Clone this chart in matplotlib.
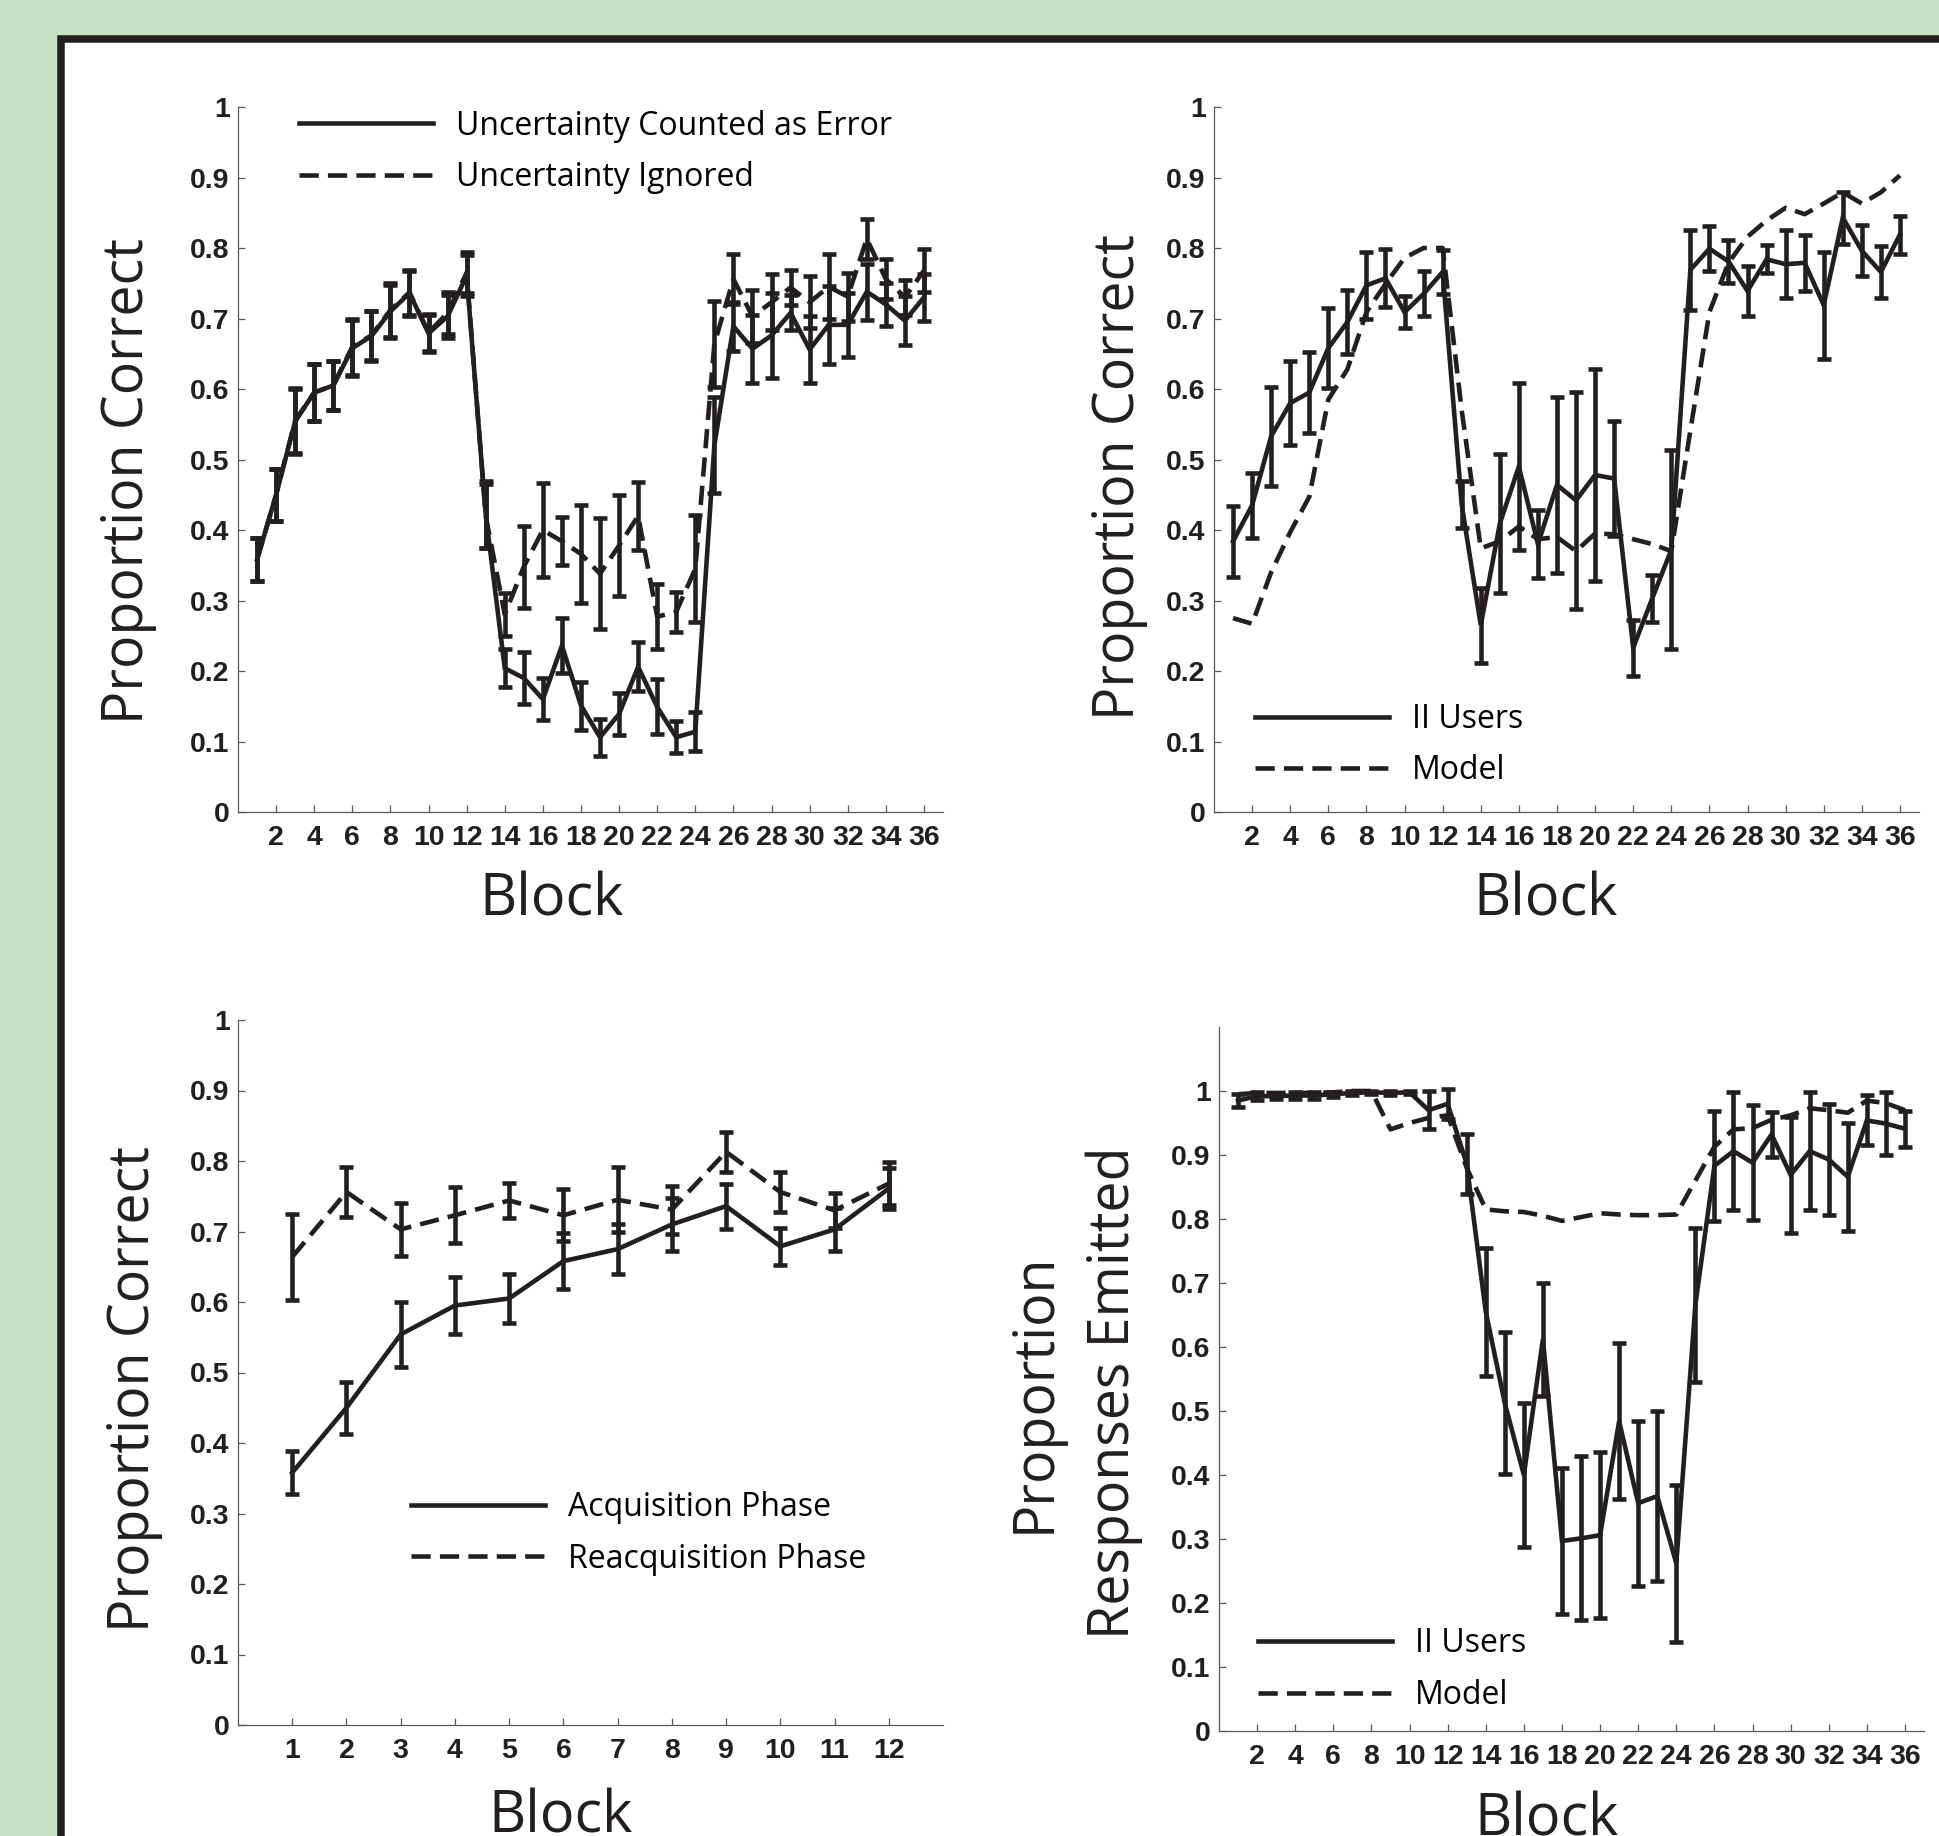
import matplotlib
matplotlib.use('Agg')
import matplotlib.pyplot as plt
from matplotlib.patches import Rectangle

# block numbers
blocks = list(range(1, 37))
phase_blocks = list(range(1, 13))

# top left: proportion correct, uncertainty counted as error vs ignored
counted_as_error = [0.358, 0.450, 0.554, 0.595, 0.605, 0.658, 0.675, 0.710, 0.736, 0.679, 0.703, 0.761,
                    0.422, 0.204, 0.190, 0.160, 0.236, 0.151, 0.106, 0.139, 0.206, 0.149, 0.106, 0.114,
                    0.520, 0.689, 0.657, 0.676, 0.708, 0.656, 0.691, 0.691, 0.738, 0.720, 0.697, 0.730]
counted_as_error_err = [0.031, 0.037, 0.046, 0.040, 0.035, 0.040, 0.035, 0.038, 0.032, 0.026, 0.030, 0.029,
                        0.047, 0.027, 0.037, 0.030, 0.039, 0.034, 0.026, 0.030, 0.035, 0.039, 0.023, 0.028,
                        0.068, 0.035, 0.048, 0.060, 0.025, 0.048, 0.055, 0.045, 0.040, 0.030, 0.035, 0.033]
ignored = [0.358, 0.450, 0.555, 0.595, 0.605, 0.660, 0.676, 0.712, 0.737, 0.680, 0.708, 0.765,
           0.420, 0.280, 0.348, 0.400, 0.384, 0.366, 0.338, 0.378, 0.420, 0.277, 0.284, 0.345,
           0.664, 0.756, 0.703, 0.723, 0.744, 0.723, 0.745, 0.731, 0.813, 0.756, 0.730, 0.768]
ignored_err = [0.031, 0.037, 0.046, 0.040, 0.035, 0.040, 0.035, 0.038, 0.032, 0.026, 0.030, 0.029,
               0.045, 0.030, 0.058, 0.066, 0.034, 0.069, 0.079, 0.072, 0.048, 0.046, 0.028, 0.076,
               0.061, 0.036, 0.038, 0.040, 0.025, 0.037, 0.046, 0.034, 0.028, 0.028, 0.025, 0.030]

# top right: II users vs model, proportion correct
ii_correct = [0.384, 0.435, 0.533, 0.580, 0.595, 0.658, 0.695, 0.747, 0.757, 0.709, 0.735, 0.766,
              0.436, 0.265, 0.409, 0.490, 0.380, 0.464, 0.442, 0.478, 0.473, 0.233, 0.303, 0.372,
              0.769, 0.799, 0.781, 0.739, 0.784, 0.777, 0.779, 0.719, 0.843, 0.796, 0.766, 0.819]
ii_correct_err = [0.050, 0.046, 0.070, 0.060, 0.057, 0.057, 0.045, 0.047, 0.041, 0.023, 0.032, 0.031,
                  0.033, 0.053, 0.099, 0.119, 0.048, 0.125, 0.154, 0.151, 0.081, 0.040, 0.033, 0.141,
                  0.057, 0.032, 0.031, 0.036, 0.020, 0.048, 0.040, 0.076, 0.037, 0.036, 0.037, 0.027]
model_correct = [0.275, 0.267, 0.340, 0.397, 0.447, 0.585, 0.628, 0.709, 0.749, 0.786, 0.800, 0.800,
                 0.570, 0.374, 0.384, 0.405, 0.387, 0.390, 0.370, 0.395, 0.394, 0.387, 0.380, 0.370,
                 0.541, 0.709, 0.779, 0.816, 0.839, 0.857, 0.848, 0.863, 0.879, 0.863, 0.879, 0.903]

# bottom left: acquisition vs reacquisition phase
acquisition = [0.358, 0.450, 0.554, 0.595, 0.605, 0.658, 0.675, 0.710, 0.736, 0.679, 0.703, 0.761]
acquisition_err = [0.031, 0.037, 0.046, 0.040, 0.035, 0.040, 0.035, 0.038, 0.032, 0.026, 0.030, 0.029]
reacquisition = [0.664, 0.756, 0.703, 0.723, 0.744, 0.723, 0.745, 0.731, 0.813, 0.756, 0.730, 0.768]
reacquisition_err = [0.061, 0.036, 0.038, 0.040, 0.025, 0.037, 0.046, 0.034, 0.028, 0.028, 0.025, 0.030]

# bottom right: proportion of responses emitted
ii_emitted = [0.985, 0.992, 0.992, 0.993, 0.993, 0.995, 0.997, 0.998, 0.997, 0.998, 0.970, 0.980,
              0.886, 0.655, 0.512, 0.400, 0.612, 0.297, 0.301, 0.306, 0.484, 0.356, 0.367, 0.262,
              0.666, 0.883, 0.906, 0.888, 0.932, 0.869, 0.906, 0.893, 0.866, 0.954, 0.949, 0.941]
ii_emitted_err = [0.010, 0.006, 0.005, 0.005, 0.005, 0.004, 0.003, 0.002, 0.003, 0.002, 0.030, 0.023,
                  0.047, 0.100, 0.111, 0.113, 0.088, 0.114, 0.128, 0.130, 0.122, 0.129, 0.133, 0.123,
                  0.120, 0.086, 0.092, 0.090, 0.035, 0.091, 0.092, 0.086, 0.084, 0.039, 0.049, 0.028]
model_emitted = [0.995, 0.997, 0.997, 0.997, 0.997, 0.998, 1.000, 1.000, 0.940, 0.950, 0.958, 0.962,
                 0.880, 0.815, 0.812, 0.811, 0.805, 0.797, 0.803, 0.809, 0.807, 0.806, 0.806, 0.807,
                 0.860, 0.913, 0.940, 0.942, 0.955, 0.962, 0.973, 0.970, 0.966, 0.985, 0.981, 0.970]

ytick_vals = [0, 0.1, 0.2, 0.3, 0.4, 0.5, 0.6, 0.7, 0.8, 0.9, 1]
ytick_labels = ['0', '0.1', '0.2', '0.3', '0.4', '0.5', '0.6', '0.7', '0.8', '0.9', '1']

INK = '#231f20'
AXIS_GRAY = '#58585a'
BG_GREEN = '#c5e3c2'
DASH = (0, (4.2, 2.0))
LW = 3.3
LABEL_FONT = 'Open Sans'
TICK_FONT = 'Liberation Sans'

W, H = 1939, 1836
fig = plt.figure(figsize=(W / 100, H / 100), dpi=100, facecolor=BG_GREEN)

# white panel with heavy black frame, running off the right and bottom edges
frame = Rectangle((60.5 / W, -0.2), 1.5, 1.2 - 39 / H, transform=fig.transFigure,
                  facecolor='white', edgecolor=INK, linewidth=5.4, joinstyle='miter', zorder=0)
fig.add_artist(frame)


def make_axes(left, top, right, bottom):
    return fig.add_axes([left / W, 1 - bottom / H, (right - left) / W, (bottom - top) / H])


def style_axes(ax, xticks, xlim, ylim):
    ax.set_facecolor('none')
    ax.spines['top'].set_visible(False)
    ax.spines['right'].set_visible(False)
    for side in ('left', 'bottom'):
        ax.spines[side].set_color(AXIS_GRAY)
        ax.spines[side].set_linewidth(0.9)
    ax.set_xlim(*xlim)
    ax.set_ylim(*ylim)
    ax.set_xticks(xticks)
    ax.set_xticklabels([str(t) for t in xticks], fontsize=20.5, fontweight='bold',
                       family=TICK_FONT, color=INK)
    ax.set_yticks(ytick_vals)
    ax.set_yticklabels(ytick_labels, fontsize=20.5, fontweight='bold', family=TICK_FONT, color=INK)
    ax.tick_params(direction='in', length=5, width=0.9, color=AXIS_GRAY)
    ax.tick_params(axis='y', pad=6)
    ax.tick_params(axis='x', pad=9)


def draw_series(ax, x, y, err, dashed, label):
    ls = DASH if dashed else '-'
    ax.plot(x, y, color=INK, lw=LW, linestyle=ls, label=label, solid_joinstyle='miter')
    if err is not None:
        ax.errorbar(x, y, yerr=err, fmt='none', ecolor=INK, elinewidth=LW,
                    capsize=5, capthick=LW)


def add_legend(ax, x, y):
    ax.legend(loc='center left', bbox_to_anchor=(x, y), frameon=False, borderpad=0,
              borderaxespad=0, handlelength=4.2, handletextpad=0.72, labelspacing=0.58,
              prop={'family': LABEL_FONT, 'size': 23})


def add_labels(ax, ylabel, yx, yy, bx, by, linespacing=1.2):
    ax.text(yx, yy, ylabel, transform=ax.transAxes, rotation=90, ha='center', va='center',
            family=LABEL_FONT, fontsize=40, color=INK, linespacing=linespacing, multialignment='center')
    ax.text(bx, by, 'Block', transform=ax.transAxes, ha='center', va='baseline',
            family=LABEL_FONT, fontsize=41.5, color=INK)


even_ticks = list(range(2, 37, 2))

# top left
ax1 = make_axes(238, 107, 943, 812)
style_axes(ax1, even_ticks, (0, 37), (0, 1))
draw_series(ax1, blocks, counted_as_error, counted_as_error_err, False, 'Uncertainty Counted as Error')
draw_series(ax1, blocks, ignored, ignored_err, True, 'Uncertainty Ignored')
add_legend(ax1, 0.0865, 0.9365)
add_labels(ax1, 'Proportion Correct', -0.155, 0.4695, 0.445, -0.1475)

# top right
ax2 = make_axes(1214, 107, 1919, 812)
style_axes(ax2, even_ticks, (0, 37), (0, 1))
draw_series(ax2, blocks, ii_correct, ii_correct_err, False, 'II Users')
draw_series(ax2, blocks, model_correct, None, True, 'Model')
add_legend(ax2, 0.058, 0.095)
add_labels(ax2, 'Proportion Correct', -0.134, 0.475, 0.471, -0.1475)

# bottom left
ax3 = make_axes(238, 1020, 943, 1725)
style_axes(ax3, phase_blocks, (0, 13), (0, 1))
draw_series(ax3, phase_blocks, acquisition, acquisition_err, False, 'Acquisition Phase')
draw_series(ax3, phase_blocks, reacquisition, reacquisition_err, True, 'Reacquisition Phase')
add_legend(ax3, 0.245, 0.272)
add_labels(ax3, 'Proportion Correct', -0.147, 0.477, 0.457, -0.153)

# bottom right
ax4 = make_axes(1219, 1027, 1924, 1731)
style_axes(ax4, even_ticks, (0, 37), (0, 1.1))
draw_series(ax4, blocks, ii_emitted, ii_emitted_err, False, 'II Users')
draw_series(ax4, blocks, model_emitted, None, True, 'Model')
add_legend(ax4, 0.0553, 0.087)
add_labels(ax4, 'Proportion\nResponses Emitted', -0.204, 0.48, 0.465, -0.149, linespacing=1.5)

fig.savefig('out.png', dpi=100, facecolor=BG_GREEN)
